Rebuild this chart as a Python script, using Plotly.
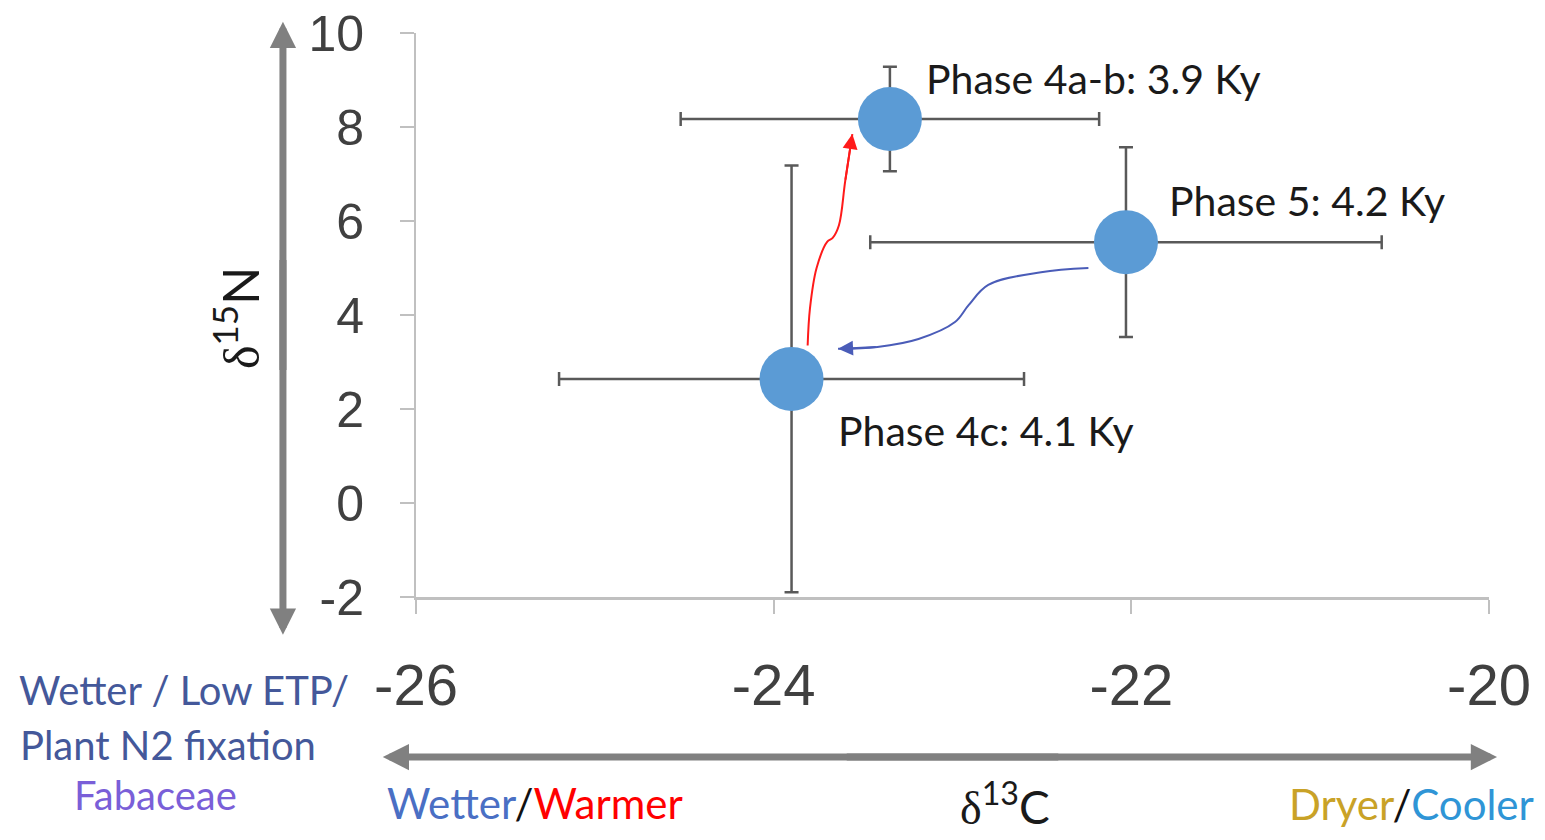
import plotly.graph_objects as go

# ---- data ----
phases = ["Phase 4a-b: 3.9 Ky", "Phase 5: 4.2 Ky", "Phase 4c: 4.1 Ky"]
d13c = [-23.35, -22.03, -23.90]
d13c_err = [1.17, 1.43, 1.30]
d15n = [8.17, 5.55, 2.64]
d15n_err = [1.11, 2.02, 4.54]
label_shift_x = [34, 41, 44]
label_shift_y = [41, 42, -52]

x_ticks = [-26, -24, -22, -20]
y_ticks = [-2, 0, 2, 4, 6, 8, 10]

# transition paths (data coordinates)
red_x = [-23.81, -23.797, -23.76, -23.70, -23.67, -23.635, -23.60, -23.56]
red_y = [3.35, 4.14, 5.00, 5.56, 5.64, 5.91, 6.85, 7.85]
blue_x = [-22.24, -22.505, -22.80, -22.91, -22.986, -23.19, -23.42, -23.64]
blue_y = [5.00, 4.91, 4.64, 4.21, 3.85, 3.49, 3.32, 3.28]

fig = go.Figure()

fig.add_trace(go.Scatter(
    x=d13c, y=d15n, mode="markers",
    marker=dict(size=64, color="#5b9bd5", line=dict(width=0)),
    error_x=dict(type="data", array=d13c_err, color="#595959", thickness=2.5, width=7),
    error_y=dict(type="data", array=d15n_err, color="#595959", thickness=2.5, width=7),
    showlegend=False, hoverinfo="skip"))

fig.add_trace(go.Scatter(x=red_x, y=red_y, mode="lines",
                         line=dict(color="#ff1a1a", width=2, shape="spline"),
                         showlegend=False, hoverinfo="skip"))
fig.add_trace(go.Scatter(x=blue_x, y=blue_y, mode="lines",
                         line=dict(color="#4a5cb8", width=2, shape="spline"),
                         showlegend=False, hoverinfo="skip"))

ann = []
# arrowheads of the transition paths
ann.append(dict(x=red_x[-1], y=red_y[-1], ax=red_x[-2], ay=red_y[-2],
                xref="x", yref="y", axref="x", ayref="y", text="",
                showarrow=True, arrowhead=2, arrowsize=1.5, arrowwidth=2, arrowcolor="#ff1a1a"))
ann.append(dict(x=blue_x[-1], y=blue_y[-1], ax=blue_x[-2], ay=blue_y[-2],
                xref="x", yref="y", axref="x", ayref="y", text="",
                showarrow=True, arrowhead=2, arrowsize=1.5, arrowwidth=2, arrowcolor="#4a5cb8"))

# phase labels
for i, p in enumerate(phases):
    ann.append(dict(x=d13c[i], y=d15n[i], xref="x", yref="y", text=p, showarrow=False,
                    xanchor="left", yanchor="middle", xshift=label_shift_x[i], yshift=label_shift_y[i],
                    font=dict(family="Lato", size=41, color="#1a1a1a")))

# big double arrows
gray = "#808080"
for tip, tail in [((-0.124, 1.02), (-0.124, 0.40)), ((-0.124, -0.067), (-0.124, 0.60)),
                  ((1.0075, -0.2837), (0.40, -0.2837)), ((-0.031, -0.2837), (0.60, -0.2837))]:
    ann.append(dict(x=tip[0], y=tip[1], ax=tail[0], ay=tail[1],
                    xref="x domain", yref="y domain", axref="x domain", ayref="y domain",
                    text="", showarrow=True, arrowhead=2, arrowsize=0.75, arrowwidth=7,
                    arrowcolor=gray))

def txt(x, y, text, size, color="#1a1a1a", family="Lato", angle=0):
    ann.append(dict(x=x, y=y, xref="x domain", yref="y domain", xanchor="center",
                    yanchor="middle", textangle=angle, text=text, showarrow=False,
                    font=dict(family=family, size=size, color=color)))

serif = "<span style='font-family:Liberation Serif'>δ</span>"
txt(-0.1668, 0.4947, serif + "<sup>15</sup>N", 50, angle=-90)
txt(0.549, -0.366, serif + "<sup>13</sup>C", 46)

txt(-0.2162, -0.165, "Wetter / Low ETP/", 40, "#44589a")
txt(-0.2311, -0.2624, "Plant N2 fixation", 40, "#44589a")
txt(-0.2432, -0.351, "Fabaceae", 40, "#7a5fd8")
txt(0.1109, -0.365,
    "<span style='color:#4a6fc4'>Wetter</span>/<span style='color:#ff0000'>Warmer</span>",
    42, "#111111")
txt(0.928, -0.367,
    "<span style='color:#c9a227'>Dryer</span>/<span style='color:#2f95d6'>Cooler</span>",
    42, "#111111")

fig.update_layout(
    width=1529, height=824,
    margin=dict(l=408, r=48, t=25, b=235),
    paper_bgcolor="white", plot_bgcolor="white",
    annotations=ann,
    xaxis=dict(range=[-26, -20], tickvals=x_ticks, ticktext=[str(v) for v in x_ticks],
               showgrid=False, zeroline=False, showline=True, linecolor="#c0c0c0", linewidth=3,
               ticks="outside", ticklen=14, tickcolor="#c0c0c0", tickwidth=1.5,
               tickfont=dict(family="Liberation Sans", size=58, color="#404040"),
               ticklabelstandoff=21, ticklabeloverflow="allow", automargin=False),
    yaxis=dict(range=[-2, 10], tickvals=y_ticks, ticktext=[str(v) for v in y_ticks],
               showgrid=False, zeroline=False, showline=True, linecolor="#c0c0c0", linewidth=2,
               ticks="outside", ticklen=14, tickcolor="#c0c0c0", tickwidth=1.5,
               tickfont=dict(family="Liberation Sans", size=50, color="#404040"),
               ticklabelstandoff=26, ticklabeloverflow="allow", automargin=False),
)

fig.write_html("out.html")
